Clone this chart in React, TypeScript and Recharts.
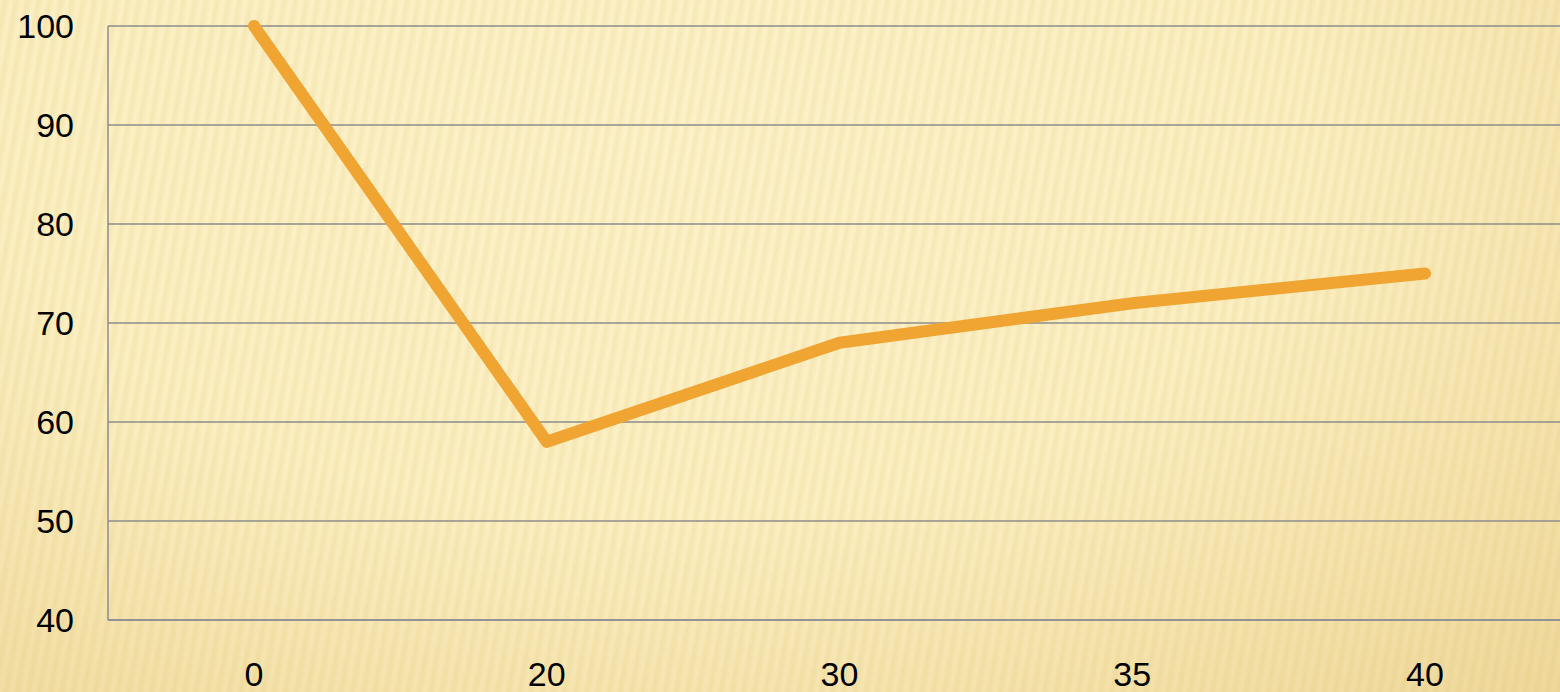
import { LineChart, Line, XAxis, YAxis, CartesianGrid } from 'recharts';

const categories = ['0', '20', '30', '35', '40'];
const values = [100, 58, 68, 72, 75];
const yTicks = [40, 50, 60, 70, 80, 90, 100];

const data = categories.map((c, i) => ({ x: c, value: values[i] }));

const tickStyle = { fill: '#000', fontSize: 34, fontFamily: '"Liberation Sans", Arial, sans-serif' };

function App() {
  return (
    <div
      style={{
        position: 'absolute',
        left: 0,
        top: 0,
        width: 1560,
        height: 692,
        overflow: 'hidden',
        background:
          'repeating-linear-gradient(100deg, rgba(215,185,95,0) 0px, rgba(215,185,95,0.18) 5px, rgba(215,185,95,0) 11px), ' +
          'radial-gradient(ellipse 85% 110% at 42% 20%, #fdf3cc 0%, #fcf0c4 50%, #f5e3ad 78%, #efd89c 100%)',
      }}
    >
      <LineChart width={1571} height={692} data={data} margin={{ top: 26, right: 0, left: 0, bottom: 0 }}>
        <CartesianGrid vertical={false} stroke="#8c8c8c" strokeWidth={1.5} />
        <XAxis
          dataKey="x"
          height={72}
          padding={{ left: 146, right: 146 }}
          tickLine={false}
          tickSize={6}
          tickMargin={36}
          axisLine={{ stroke: '#8a8e98', strokeWidth: 1.5 }}
          tick={tickStyle}
        />
        <YAxis
          width={108}
          domain={[40, 100]}
          ticks={yTicks}
          interval={0}
          tickLine={false}
          tickSize={6}
          tickMargin={28}
          axisLine={{ stroke: '#8c8c8c', strokeWidth: 1.5 }}
          tick={tickStyle}
        />
        <Line
          type="linear"
          dataKey="value"
          stroke="#f0a431"
          strokeWidth={12}
          strokeLinecap="round"
          strokeLinejoin="round"
          dot={false}
          activeDot={false}
          isAnimationActive={false}
        />
      </LineChart>
    </div>
  );
}

export default App;
